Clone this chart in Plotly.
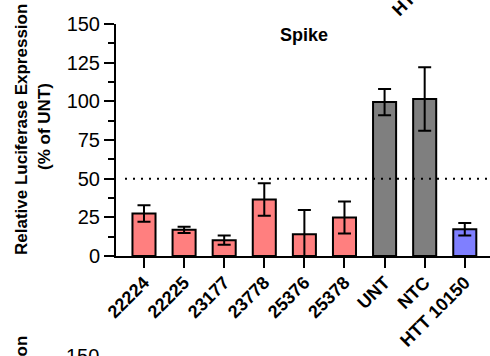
import plotly.graph_objects as go

# Spike panel: luciferase expression per siRNA, as % of untreated
categories = ["22224", "22225", "23177", "23778", "25376", "25378", "UNT", "NTC", "HTT 10150"]
mean_pct = [27.5, 16.9, 10.2, 36.6, 14.1, 24.9, 99.5, 101.5, 17.3]
sd_pct = [5.3, 2.0, 3.0, 10.5, 15.6, 10.4, 8.5, 20.5, 4.1]
group = ["test"] * 6 + ["ctrl", "ctrl", "pos"]
y_ticks = [0, 25, 50, 75, 100, 125, 150]
threshold = 50

palette = {"test": "#FF7F7F", "ctrl": "#7F7F7F", "pos": "#7F7FFF"}
bar_colors = [palette[g] for g in group]

FIG_W, FIG_H = 490, 356
L, T, W, H = 116, 24, 374, 232  # plot area in pixels


def px_x(x):
    return (x - L) / W


def px_y(y):
    return (T + H - y) / H


FONT = "Liberation Sans, Arial, sans-serif"
XTICK_SIZE = 18

fig = go.Figure(
    go.Bar(
        x=categories,
        y=mean_pct,
        width=0.575,
        marker=dict(color=bar_colors, line=dict(color="black", width=2)),
        error_y=dict(type="data", array=sd_pct, visible=True,
                     color="black", thickness=2, width=6.5),
    )
)

fig.update_layout(
    width=FIG_W,
    height=FIG_H,
    margin=dict(l=L, r=FIG_W - L - W, t=T, b=FIG_H - T - H, pad=0),
    paper_bgcolor="white",
    plot_bgcolor="white",
    showlegend=False,
    font=dict(family=FONT, color="black"),
)

fig.update_xaxes(
    type="category",
    range=[-0.698, 8.629],
    showline=True, linecolor="black", linewidth=2,
    ticks="outside", ticklen=10, tickwidth=2, tickcolor="black",
    tickangle=-45, ticklabelstandoff=-3,
    tickfont=dict(family=FONT, size=XTICK_SIZE, color="black", weight="bold"),
    showgrid=False, zeroline=False,
)

fig.update_yaxes(
    range=[0, 150],
    tickvals=y_ticks,
    showline=True, linecolor="black", linewidth=2,
    ticks="outside", ticklen=10, tickwidth=2, tickcolor="black",
    tickfont=dict(family=FONT, size=20, color="black"),
    minor=dict(tick0=12.5, dtick=25, ticks="outside", ticklen=6,
               tickwidth=2, tickcolor="black", showgrid=False),
    showgrid=False, zeroline=False,
)

# dotted 50% reference line
fig.add_shape(
    type="line", xref="paper", yref="y",
    x0=px_x(125), x1=1, y0=threshold, y1=threshold,
    line=dict(color="black", width=2, dash="2px,6px"),
    layer="above",
)

annotations = [
    dict(text="<b>Spike</b>", x=px_x(304), y=px_y(35), size=18),
    dict(text="<b>Relative Luciferase Expression</b>", x=px_x(21), y=px_y(130),
         textangle=-90, size=17),
    dict(text="<b>(% of UNT)</b>", x=px_x(44), y=px_y(127),
         textangle=-90, size=17),
    # edges of the neighbouring panels above and below
    dict(text="<b>HTT 10150</b>", x=px_x(427), y=px_y(-19),
         textangle=-45, size=XTICK_SIZE),
    dict(text="150", x=px_x(101), y=px_y(356), xanchor="right", size=20),
    dict(text="<b>Relative Luciferase Expression</b>", x=px_x(21), y=px_y(462),
         textangle=-90, size=17),
]
for a in annotations:
    size = a.pop("size")
    a.setdefault("xanchor", "center")
    fig.add_annotation(xref="paper", yref="paper", yanchor="middle",
                       showarrow=False,
                       font=dict(family=FONT, color="black", size=size), **a)

fig.write_html("out.html")
